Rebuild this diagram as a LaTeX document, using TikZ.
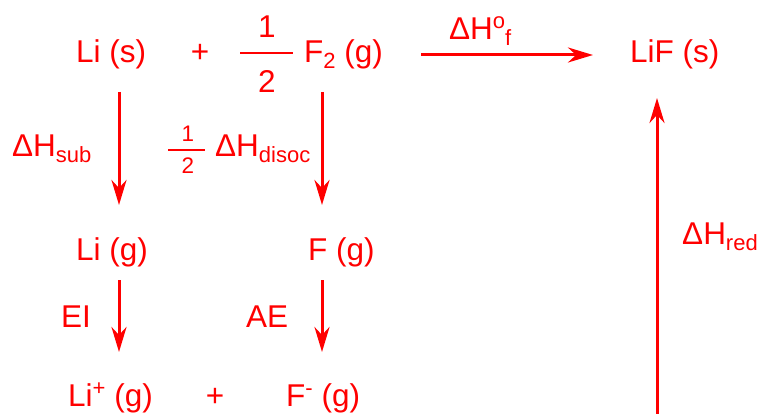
\documentclass[tikz,border=0pt]{standalone}
\usepackage{fontspec}
\setmainfont{Liberation Sans}
\usetikzlibrary{arrows.meta}
\definecolor{rd}{RGB}{255,0,0}
\newcommand\subx[1]{\raisebox{-6pt}{\fontsize{22}{25}\selectfont #1}}
\newcommand\supx[1]{\raisebox{11pt}{\fontsize{22}{25}\selectfont #1}}
\begin{document}
\begin{tikzpicture}[x=1pt,y=-1pt,
 lbl/.style={anchor=base west, inner sep=0pt, text=rd, font=\fontsize{31.5}{36}\selectfont},
 dig/.style={anchor=base, inner sep=0pt, text=rd, font=\fontsize{31.5}{36}\selectfont},
 sdig/.style={anchor=base, inner sep=0pt, text=rd, font=\fontsize{22.5}{25}\selectfont},
 arr/.style={draw=rd, line width=3pt, -{Stealth[length=25pt,width=15pt,inset=8pt]}},
 fbar/.style={draw=rd, line width=2.2pt}]
\useasboundingbox (0,0) rectangle (760,414);
% row 1
\node[lbl] (lis) at (76,63) {Li (s)};
\node[dig] (plus1) at (200,63) {+};
\node[dig] (n1) at (267,38) {1};
\node[dig] (d1) at (267,93) {2};
\coordinate (b1l) at (240,53); \coordinate (b1r) at (293,53);
\draw[fbar] (b1l) -- (b1r);
\node[lbl] (f2) at (304,63) {F\subx{2} (g)};
\node[lbl] (dhf) at (449,40) {ΔH\supx{o}\subx{f}};
\node[lbl] (lif) at (630,63) {LiF (s)};
% row 2 labels
\node[lbl] (dhsub) at (12,157) {ΔH\subx{sub}};
\node[sdig] (n2) at (188,142) {1};
\node[sdig] (d2) at (188,174) {2};
\coordinate (b2l) at (168,150); \coordinate (b2r) at (205,150);
\draw[fbar] (b2l) -- (b2r);
\node[lbl] (dhdis) at (215,157) {ΔH\subx{disoc}};
\node[lbl] (dhred) at (682,244) {ΔH\subx{red}};
% row 3
\node[lbl] (lig) at (76,260) {Li (g)};
\node[lbl] (fg) at (308,260) {F (g)};
% row 4 labels
\node[lbl] (ei) at (61,327) {EI};
\node[lbl] (ae) at (246,327) {AE};
% row 5
\node[lbl] (lip) at (68,406) {Li\supx{+} (g)};
\node[dig] (plus2) at (215,406) {+};
\node[lbl] (fm) at (286,406) {F\supx{-} (g)};
% arrow end points
\coordinate (a1s) at (421,55); \coordinate (a1e) at (593,55);
\coordinate (a2s) at (119,92); \coordinate (a2e) at (119,205);
\coordinate (a3s) at (322,92); \coordinate (a3e) at (322,205);
\coordinate (a4s) at (119,280); \coordinate (a4e) at (119,352);
\coordinate (a5s) at (322,280); \coordinate (a5e) at (322,352);
\coordinate (a6s) at (657,416); \coordinate (a6e) at (657,98);
\draw[arr] (a1s) -- (a1e);
\draw[arr] (a2s) -- (a2e);
\draw[arr] (a3s) -- (a3e);
\draw[arr] (a4s) -- (a4e);
\draw[arr] (a5s) -- (a5e);
\draw[arr] (a6s) -- (a6e);
\end{tikzpicture}
\end{document}
